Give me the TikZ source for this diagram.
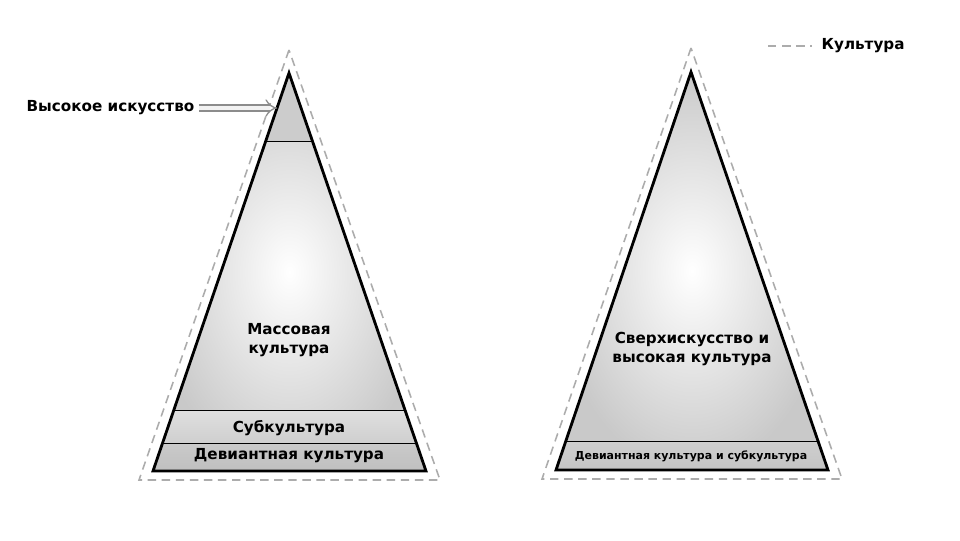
\documentclass[tikz,border=0pt]{standalone}
\usepackage{fontspec}
\setmainfont{DejaVu Sans}
\usetikzlibrary{arrows.meta, positioning, calc}

\begin{document}
\begin{tikzpicture}[
    x=0.025cm, y=-0.025cm,
    edge/.style={draw=black, line width=2pt, line join=miter},
    divider/.style={draw=black, line width=0.6pt},
    culture/.style={draw=gray!65, line width=1.1pt, dash pattern=on 6pt off 4pt},
    label/.style={font=\bfseries\fontsize{10.8}{13.5}\selectfont, align=center, text=black, inner sep=1pt},
    smalllabel/.style={font=\bfseries\fontsize{7.8}{9}\selectfont, text=black, inner sep=1pt},
    pointer/.style={draw=gray!90, double=gray!10, double distance=3.4pt, line width=0.9pt, -{Implies}}
]

\useasboundingbox[fill=white] (0,0) rectangle (960,540);

% ===== LEFT PYRAMID =====
\coordinate (LA) at (289,73);
\coordinate (LL) at (153,471);
\coordinate (LR) at (426,471);
\coordinate (hl) at ($(LA)!0.171!(LL)$);
\coordinate (hr) at ($(LA)!0.171!(LR)$);
\coordinate (sl) at ($(LA)!0.847!(LL)$);
\coordinate (sr) at ($(LA)!0.847!(LR)$);
\coordinate (dl) at ($(LA)!0.930!(LL)$);
\coordinate (dr) at ($(LA)!0.930!(LR)$);

\shade[inner color=white, outer color=gray!42] (LA) -- (LL) -- (LR) -- cycle;
\fill[gray!40] (LA) -- (hl) -- (hr) -- cycle;
\shade[top color=gray!25, bottom color=gray!38] (sl) -- (dl) -- (dr) -- (sr) -- cycle;
\shade[top color=gray!42, bottom color=gray!50] (dl) -- (LL) -- (LR) -- (dr) -- cycle;
\draw[divider] (hl) -- (hr);
\draw[divider] (sl) -- (sr);
\draw[divider] (dl) -- (dr);
\draw[edge] (LA) -- (LL) -- (LR) -- cycle;

% Culture boundary
\draw[culture] (289,50) -- (139,480) -- (440,480) -- cycle;

% Labels
\node[label] (mass) at (289,340) {Массовая\\культура};
\node[label] (sub) at (289,428) {Субкультура};
\node[label] (dev) at (289,456) {Девиантная культура};

% High art pointer
\node[label, anchor=east] (high) at (196,108) {Высокое искусство};
\coordinate (hightip) at (277,108);
\draw[pointer] ([xshift=2pt]high.east) -- (hightip);

% ===== RIGHT PYRAMID =====
\coordinate (RA) at (691,72);
\coordinate (RL) at (556,470);
\coordinate (RR) at (828,470);
\coordinate (bl) at ($(RA)!0.927!(RL)$);
\coordinate (br) at ($(RA)!0.927!(RR)$);

\shade[inner color=white, outer color=gray!42] (RA) -- (RL) -- (RR) -- cycle;
\shade[top color=gray!38, bottom color=gray!46] (bl) -- (RL) -- (RR) -- (br) -- cycle;
\draw[divider] (bl) -- (br);
\draw[edge] (RA) -- (RL) -- (RR) -- cycle;

% Culture boundary
\draw[culture] (691,48) -- (542,479) -- (842,479) -- cycle;

% Labels
\node[label] (super) at (692,349) {Сверхискусство и\\высокая культура};
\node[smalllabel] (devsub) at (691,456) {Девиантная культура и субкультура};

% ===== LEGEND =====
\coordinate (keyl) at (768,46);
\coordinate (keyr) at (812,46);
\draw[culture] (keyl) -- (keyr);
\node[label, anchor=west] (key) at (820,46) {Культура};

\end{tikzpicture}
\end{document}
